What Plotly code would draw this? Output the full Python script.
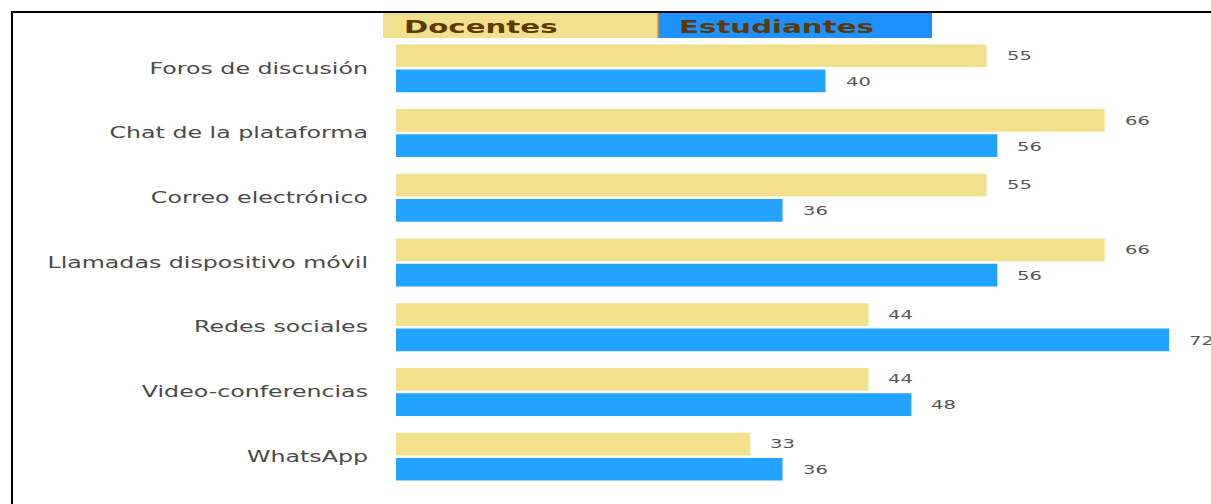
import plotly.graph_objects as go

# Datos
categorias = ['Foros de discusión', 'Chat de la plataforma', 'Correo electrónico',
              'Llamadas dispositivo móvil', 'Redes sociales', 'Video-conferencias', 'WhatsApp']
docentes = [55, 66, 55, 66, 44, 44, 33]
estudiantes = [40, 56, 36, 56, 72, 48, 36]

C_DOC = '#F3E08D'
C_EST = '#22A3FF'
C_LEG_EST = '#1E90FF'
C_TXT_LEG = '#5C3A05'
FUENTE = 'DejaVu Sans'

fig = go.Figure()
fig.add_trace(go.Bar(y=categorias, x=docentes, orientation='h', name='Docentes',
                     marker=dict(color=C_DOC, line=dict(width=0))))
fig.add_trace(go.Bar(y=categorias, x=estudiantes, orientation='h', name='Estudiantes',
                     marker=dict(color=C_EST, line=dict(width=0))))

# Etiquetas de valor (desplazadas a la derecha de cada barra)
for serie, dy in [(docentes, 13), (estudiantes, -13)]:
    for cat, v in zip(categorias, serie):
        fig.add_annotation(x=v, y=cat, text=str(v), showarrow=False, xanchor='left',
                           xshift=18, yshift=dy,
                           font=dict(family=FUENTE, size=13, color='#555555'))

# Leyenda dibujada como cajas de color
px0, pw = 396, 815
def xp(px):
    return (px - px0) / pw

top, alto = 36, 453
def yp(py):
    return 1 - (py - top) / alto

for x0, x1, col, txt in [(383, 658, C_DOC, 'Docentes'), (658, 932, C_LEG_EST, 'Estudiantes')]:
    fig.add_shape(type='rect', xref='paper', yref='paper', x0=xp(x0), x1=xp(x1),
                  y0=yp(38), y1=yp(13), fillcolor=col, line=dict(width=0), layer='above')
    fig.add_annotation(xref='paper', yref='paper', x=xp(x0 + 19), y=yp(27), text=txt,
                       showarrow=False, xanchor='left', yanchor='middle',
                       font=dict(family=FUENTE, size=17, color=C_TXT_LEG, weight='bold'))
fig.add_shape(type='line', xref='paper', yref='paper', x0=xp(658), x1=xp(658),
              y0=yp(38), y1=yp(13), line=dict(color='#E8902A', width=1.5), layer='above')

# Marco negro
fig.add_shape(type='rect', xref='paper', yref='paper', x0=xp(12), x1=xp(1230),
              y0=yp(520), y1=yp(12), line=dict(color='black', width=2), layer='above')

fig.update_layout(
    width=1211, height=504, barmode='group', bargap=0.22, bargroupgap=0.1,
    margin=dict(l=396, r=0, t=36, b=15),
    paper_bgcolor='white', plot_bgcolor='white', showlegend=False,
    font=dict(family=FUENTE, color='#4a4a4a'),
)
fig.update_xaxes(range=[0, 75.9], visible=False, showgrid=False)
fig.update_yaxes(autorange='reversed', showgrid=False, ticks='', ticklabelstandoff=27,
                 tickfont=dict(family=FUENTE, size=15, color='#4a4a4a'))

# el texto original sale estirado a lo ancho: se estira con textLength
post = """
document.body.style.margin = '0';
var gd = document.getElementById('{plot_id}');
function estirar(t, f) {
  var w = t.getComputedTextLength();
  var anc = t.getAttribute('text-anchor');
  if (anc === 'middle') {
    t.setAttribute('x', parseFloat(t.getAttribute('x') || 0) - w / 2);
    t.setAttribute('text-anchor', 'start');
  }
  t.setAttribute('textLength', w * f);
  t.setAttribute('lengthAdjust', 'spacingAndGlyphs');
}
gd.querySelectorAll('.ytick text').forEach(function (t) { estirar(t, 1.58); });
gd.querySelectorAll('.annotation-text').forEach(function (t) {
  estirar(t, (parseFloat(t.style.fontSize) < 15) ? 1.5 : 1.72);
});
"""
fig.write_html('out.html', post_script=post, config={'displayModeBar': False})
